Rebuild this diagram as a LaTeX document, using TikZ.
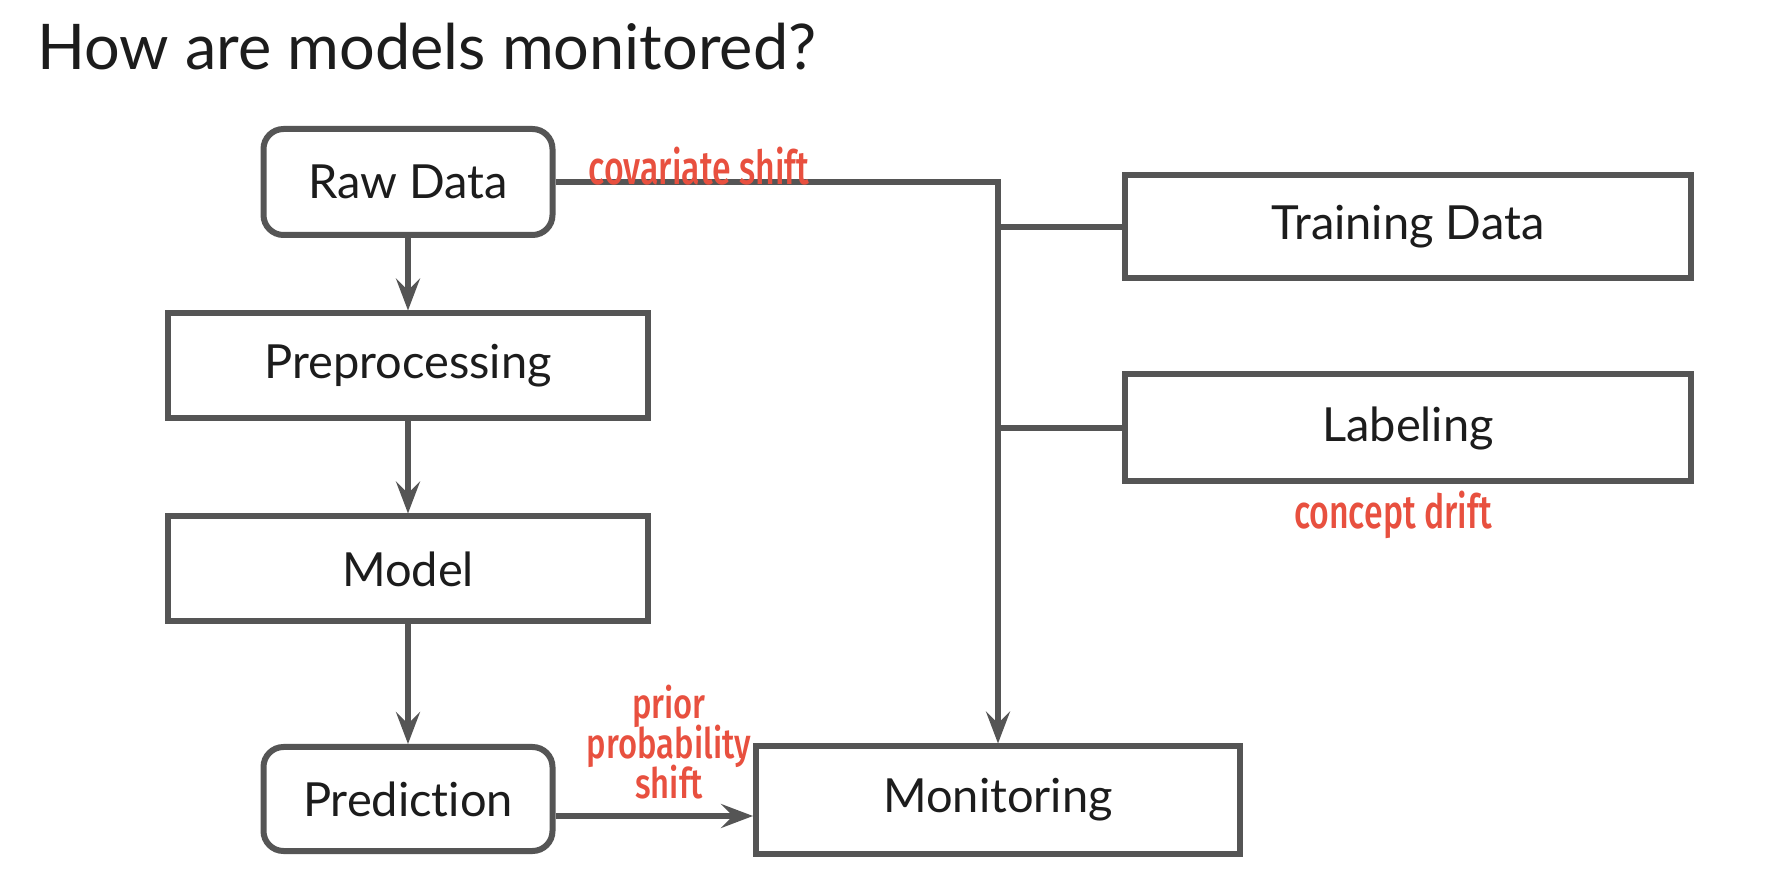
\documentclass[tikz,border=0pt]{standalone}
\usepackage{fontspec}
\setmainfont{Lato}[Ligatures=NoCommon]
\newfontfamily\notefont[FakeStretch=0.72,UprightFont={* Medium}]{Fira Sans}
\newfontfamily\notefontb[FakeStretch=0.78,UprightFont={* Medium}]{Fira Sans}
\usetikzlibrary{arrows.meta}
\definecolor{ln}{HTML}{555555}
\definecolor{rd}{HTML}{E8503F}
\definecolor{tx}{HTML}{1C1C1C}
\newcommand\notesetup{\notefont\fontsize{23.5}{20}\selectfont}
\newcommand\notesetupb{\notefontb\fontsize{21}{20}\selectfont\lineskiplimit=-30pt\relax\lineskip=0pt\relax}
\tikzset{
 box/.style={draw=ln, line width=3pt, fill=white, text=tx, font=\fontsize{23.5}{28}\selectfont, inner sep=0pt},
 rbox/.style={box, rounded corners=10pt},
 conn/.style={draw=ln, line width=2.6pt},
 arr/.style={conn, -{Stealth[length=16pt,width=12pt,inset=6pt]}},
 note/.style={text=rd, font=\notesetup, align=center, inner sep=0pt},
}
\begin{document}
\begin{tikzpicture}[x=0.5pt,y=-0.5pt]
\useasboundingbox[fill=white] (0,0) rectangle (1768,876);
\node[anchor=base west, font=\fontsize{31.5}{36}\selectfont, text=tx, inner sep=0pt] (title) at (37,70) {How are models monitored?};
\node[rbox, minimum width=144.5pt, minimum height=53pt] (raw) at (408,182) {Raw Data};
\node[box, minimum width=240pt, minimum height=52.5pt] (pre) at (408,366) {Preprocessing};
\node[box, minimum width=240pt, minimum height=52.5pt] (model) at (408,569) {Model};
\node[rbox, minimum width=144.5pt, minimum height=52pt] (pred) at (408,799) {Prediction};
\node[box, minimum width=242pt, minimum height=53.5pt] (mon) at (998,800) {Monitoring};
\node[box, minimum width=283pt, minimum height=51.5pt] (train) at (1408,227) {Training Data};
\node[box, minimum width=283pt, minimum height=53.5pt] (lab) at (1408,428) {Labeling};
\draw[arr] (raw.east) -| (mon.north);
\draw[conn] (train.west) -- (train.west -| mon.north);
\draw[conn] (lab.west) -- (lab.west -| mon.north);
\draw[arr] (raw.south) -- (pre.north);
\draw[arr] (pre.south) -- (model.north);
\draw[arr] (model.south) -- (pred.north);
\coordinate (pa) at (557,816);
\draw[arr] (pa -| pred.east) -- (pa -| mon.west);
\node[note] (cov) at (699,166) {covariate shift};
\node[note] (con) at (1393,515) {concept drift};
\node[note, font=\notesetupb] (pps) at (669,742) {prior\\probability\\shift};
\end{tikzpicture}
\end{document}
